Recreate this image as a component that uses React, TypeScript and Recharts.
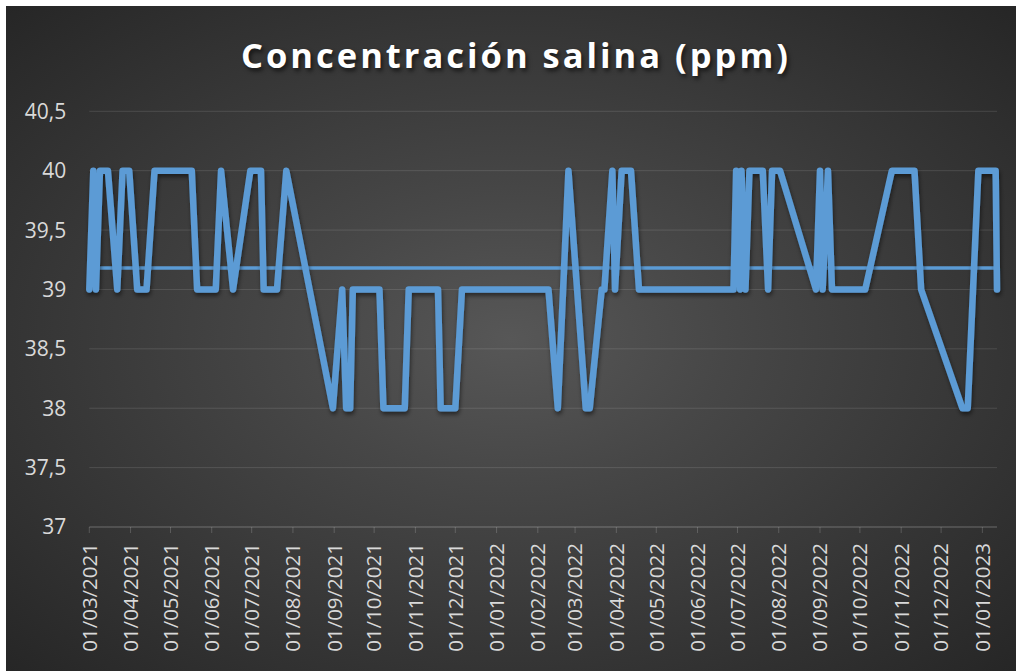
import { LineChart, Line, XAxis, YAxis, CartesianGrid, ReferenceLine } from 'recharts';

// salinity readings (ppm), one value per sample date
const DATES = [
  '2021-03-01', '2021-03-04', '2021-03-06', '2021-03-09', '2021-03-15', '2021-03-22',
  '2021-03-26', '2021-03-31', '2021-04-06', '2021-04-13', '2021-04-19', '2021-05-17',
  '2021-05-21', '2021-06-04', '2021-06-08', '2021-06-17', '2021-06-30', '2021-07-08',
  '2021-07-10', '2021-07-20', '2021-07-27', '2021-08-31', '2021-09-07', '2021-09-10',
  '2021-09-13', '2021-09-15', '2021-10-05', '2021-10-08', '2021-10-24', '2021-10-27',
  '2021-11-18', '2021-11-20', '2021-12-01', '2021-12-06', '2022-02-09', '2022-02-16',
  '2022-02-24', '2022-03-09', '2022-03-12', '2022-03-21', '2022-03-23', '2022-03-29',
  '2022-03-31', '2022-04-05', '2022-04-12', '2022-04-18', '2022-06-28', '2022-06-30',
  '2022-07-03', '2022-07-04', '2022-07-07', '2022-07-10', '2022-07-20', '2022-07-24',
  '2022-07-27', '2022-08-02', '2022-08-29', '2022-09-01', '2022-09-03', '2022-09-07',
  '2022-09-10', '2022-10-05', '2022-10-25', '2022-11-11', '2022-11-16', '2022-12-17',
  '2022-12-21', '2022-12-25', '2022-12-29', '2023-01-11', '2023-01-12',
];

const SALINITY = [
  39, 40, 39, 40, 40, 39,
  40, 40, 39, 39, 40, 40,
  39, 39, 40, 39, 40, 40,
  39, 39, 40, 38, 39, 38,
  38, 39, 39, 38, 38, 39,
  39, 38, 38, 39, 39, 38,
  40, 38, 38, 39, 39, 40,
  39, 40, 40, 39, 39, 40,
  39, 40, 39, 40, 40, 39,
  40, 40, 39, 40, 39, 40,
  39, 39, 40, 40, 39, 38,
  38, 39, 40, 40, 39,
];

const AVERAGE = 39.18;

const MONTH_TICKS = [
  '2021-03-01', '2021-04-01', '2021-05-01', '2021-06-01', '2021-07-01', '2021-08-01',
  '2021-09-01', '2021-10-01', '2021-11-01', '2021-12-01', '2022-01-01', '2022-02-01',
  '2022-03-01', '2022-04-01', '2022-05-01', '2022-06-01', '2022-07-01', '2022-08-01',
  '2022-09-01', '2022-10-01', '2022-11-01', '2022-12-01', '2023-01-01',
];

const Y_TICKS = [37, 37.5, 38, 38.5, 39, 39.5, 40, 40.5];

const BLUE = '#5b9bd5';
const LABEL = '#d9d9d9';
const FONT = '"Open Sans", "Noto Sans", sans-serif';

const toTs = (s: string) => {
  const [y, m, d] = s.split('-').map(Number);
  return Date.UTC(y, m - 1, d);
};

const fmtDate = (ts: number) => {
  const d = new Date(ts);
  const dd = String(d.getUTCDate()).padStart(2, '0');
  const mm = String(d.getUTCMonth() + 1).padStart(2, '0');
  return `${dd}/${mm}/${d.getUTCFullYear()}`;
};

const data = DATES.map((d, i) => ({ t: toTs(d), v: SALINITY[i] }));

function DateTick(props: any) {
  const { x, y, payload } = props;
  const ty = y + 10;
  return (
    <text
      x={x}
      y={ty}
      dy="0.36em"
      transform={`rotate(-90 ${x} ${ty})`}
      textAnchor="end"
      fill={LABEL}
      fontSize={20.5}
      fontFamily={FONT}
    >
      {fmtDate(payload.value)}
    </text>
  );
}

export default function App() {
  return (
    <div
      style={{
        position: 'absolute',
        left: 6,
        top: 6,
        width: 1010,
        height: 665,
        background: 'radial-gradient(ellipse at 50% 50%, #575757 0%, #474747 30%, #262626 100%)',
        overflow: 'hidden',
      }}
    >
      <LineChart width={1010} height={665} data={data} margin={{ top: 105.3, right: 19, bottom: 4, left: 23.3 }}>
        <defs>
          <filter id="lineShadow" x="-5%" y="-5%" width="110%" height="120%">
            <feDropShadow dx="1" dy="3" stdDeviation="2" floodColor="#000" floodOpacity="0.5" />
          </filter>
        </defs>
        <CartesianGrid vertical={false} stroke="#ffffff" strokeOpacity={0.12} />
        <XAxis
          dataKey="t"
          type="number"
          scale="time"
          domain={[toTs(DATES[0]), toTs(DATES[DATES.length - 1])]}
          ticks={MONTH_TICKS.map(toTs)}
          interval={0}
          tick={<DateTick />}
          tickSize={6}
          tickMargin={0}
          height={140}
          axisLine={{ stroke: '#ffffff', strokeOpacity: 0.18 }}
          tickLine={{ stroke: '#ffffff', strokeOpacity: 0.18 }}
        />
        <YAxis
          domain={[37, 40.5]}
          ticks={Y_TICKS}
          interval={0}
          width={60}
          axisLine={false}
          tickLine={false}
          tickSize={0}
          tickMargin={23}
          tick={{ fill: LABEL, fontSize: 21, fontFamily: FONT }}
          tickFormatter={(v: number) => String(v).replace('.', ',')}
        />
        <ReferenceLine y={AVERAGE} stroke={BLUE} strokeWidth={3.5} />
        <Line
          type="linear"
          dataKey="v"
          stroke={BLUE}
          strokeWidth={6.5}
          strokeLinejoin="round"
          strokeLinecap="round"
          dot={false}
          activeDot={false}
          filter="url(#lineShadow)"
          isAnimationActive={false}
        />
      </LineChart>
      <div
        style={{
          position: 'absolute',
          left: 5,
          top: 27,
          width: 1010,
          textAlign: 'center',
          color: '#ffffff',
          fontFamily: FONT,
          fontWeight: 700,
          fontSize: 34.5,
          letterSpacing: 3,
          lineHeight: '44px',
          textShadow: '2px 3px 4px rgba(0,0,0,0.6)',
        }}
      >
        Concentración salina (ppm)
      </div>
    </div>
  );
}
